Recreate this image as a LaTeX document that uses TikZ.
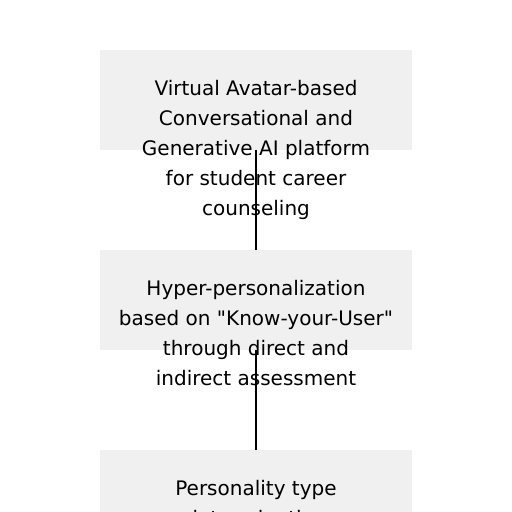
\documentclass[tikz,border=0pt]{standalone}
\usepackage{fontspec}
\setmainfont{DejaVu Sans}[Ligatures=TeXOff]
\definecolor{boxgray}{RGB}{240,240,240}
\begin{document}
\begin{tikzpicture}[x=1pt,y=-1pt,
  boxstyle/.style={rectangle,fill=boxgray,draw=none,minimum width=312pt,minimum height=100pt,inner sep=0pt},
  txtstyle/.style={align=center,inner sep=0pt,anchor=base,font=\fontsize{20}{30}\selectfont},
  linkstyle/.style={draw=black,line width=1.8pt}]
\useasboundingbox (0,0) rectangle (512,512);
\node[boxstyle] (b1) at (256,100) {};
\node[boxstyle] (b2) at (256,300) {};
\node[boxstyle] (b3) at (256,500) {};
\node[txtstyle] (t1) at (256,215) {Virtual Avatar-based\\Conversational and\\Generative AI platform\\for student career\\counseling};
\node[txtstyle] (t2) at (256,385) {Hyper-personalization\\based on "Know-your-User"\\through direct and\\indirect assessment};
\node[txtstyle] (t3) at (256,525) {Personality type\\determination};
\draw[linkstyle] (b1.south) -- (b2.north);
\draw[linkstyle] (b2.south) -- (b3.north);
\end{tikzpicture}
\end{document}
